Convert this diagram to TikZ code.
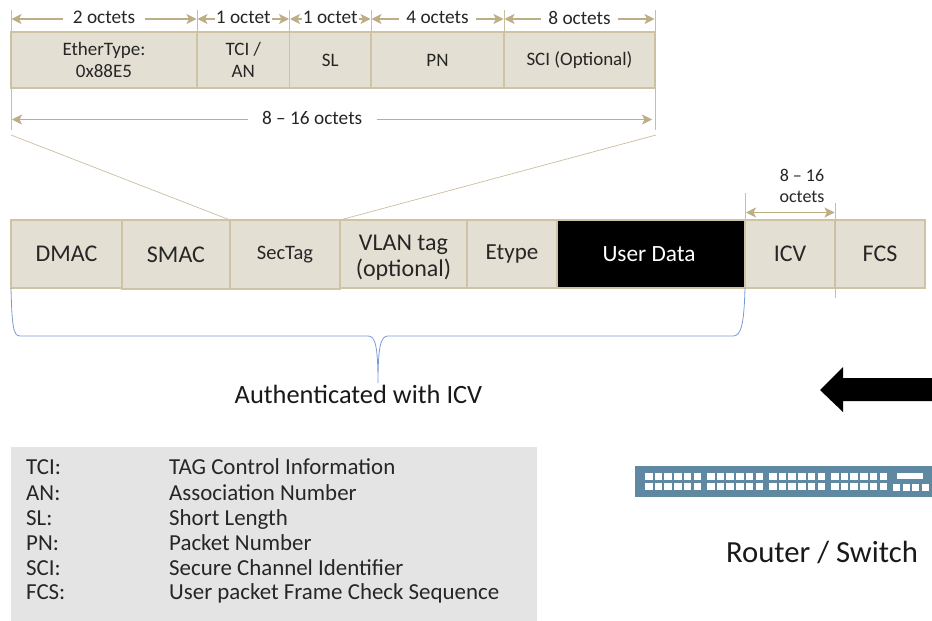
\documentclass[tikz,border=0pt]{standalone}
\usepackage{fontspec}
\setmainfont{Carlito}
\usetikzlibrary{arrows.meta,positioning}
\definecolor{mysand}{RGB}{228,223,211}
\definecolor{myborder}{RGB}{207,195,166}
\definecolor{mytan}{RGB}{190,174,134}
\definecolor{mybrace}{RGB}{120,155,215}
\definecolor{mygrey}{RGB}{228,228,228}
\definecolor{myswitch}{RGB}{95,136,163}

\begin{document}
\begin{tikzpicture}[
  x=1pt,y=-1pt,
  >={Stealth[inset=2.5pt,length=10pt,width=10pt]},
  myfield/.style={
    draw=myborder,
    line width=1.5pt,
    fill=mysand,
    inner sep=0pt,
    outer sep=0pt,
    align=center,
    text=black!85
    },
  mytop/.style={myfield, minimum height=56pt, font=\fontsize{19}{22}\selectfont},
  mylow/.style={myfield, minimum height=68pt, font=\fontsize{24}{26}\selectfont},
  myext/.style={draw=mytan!80, line width=0.9pt},
  mydim/.style={draw=mytan, line width=1.1pt, <->},
  mydimtext/.style={fill=white, inner ysep=0pt, yshift=1.5pt, text=black!85, font=\fontsize{19.3}{20}\selectfont},
  mylegend/.style={anchor=base west, inner sep=0pt, text=black!85, font=\fontsize{22.9}{24}\selectfont},
  myport/.style={fill=white}
]
\useasboundingbox (0,0) rectangle (932,621);

% expanded tag
\node [mytop, minimum width=186pt, anchor=north west] (ether) at (11,32) {EtherType:\\0x88E5};
\node [mytop, minimum width=92.5pt, right=0pt of ether] (tci) {TCI /\\AN};
\node [mytop, minimum width=81.5pt, right=0pt of tci] (sl) {SL};
\node [mytop, minimum width=133pt, right=0pt of sl] (pn) {PN};
\node [mytop, minimum width=151pt, right=0pt of pn] (sci) {SCI (Optional)};

% frame
\node [mylow, minimum width=111pt, anchor=north west] (dmac) at (11,220) {DMAC};
\node [mylow, minimum width=108pt, minimum height=69pt, anchor=north west] (smac) at (dmac.north east) {SMAC};
\node [mylow, minimum width=110pt, minimum height=69pt, anchor=north west, font=\fontsize{20.5}{22}\selectfont] (sectag) at (smac.north east) {SecTag};
\node [mylow, minimum width=127pt, anchor=north west] (vlan) at (sectag.north east) {\rule{0pt}{23pt}VLAN tag\\(optional)};
\node [mylow, minimum width=90pt, right=0pt of vlan, font=\fontsize{23}{26}\selectfont] (etype) {Etype};
\node [mylow, minimum width=188pt, right=0pt of etype, fill=black, text=white, font=\fontsize{23.3}{26}\selectfont] (data) {User Data\hspace{4pt}};
\node [mylow, minimum width=90pt, right=0pt of data] (icv) {ICV};
\node [mylow, minimum width=90pt, right=0pt of icv] (fcs) {FCS};

% extension lines
\coordinate (t0) at (11,10);
\coordinate (t1) at (197,10);
\coordinate (t2) at (289.5,10);
\coordinate (t3) at (371,10);
\coordinate (t4) at (504,10);
\coordinate (t5) at (655,10);
\coordinate (b0) at (11,130);
\coordinate (b5) at (655,130);
\draw [myext] (t0) -- (b0);
\draw [myext] (t1) -- (ether.north east);
\draw [myext] (t2) -- (tci.north east);
\draw [myext] (t3) -- (sl.north east);
\draw [myext] (t4) -- (pn.north east);
\draw [myext] (t5) -- (b5);

% octet sizes
\draw [mydim] (11.5,19) -- node [mydimtext, inner xsep=10pt] {2 octets} (196.5,19);
\draw [mydim] (197.5,19) -- node [mydimtext, inner xsep=1pt] {1 octet} (289,19);
\draw [mydim] (290,19) -- node [mydimtext, inner xsep=1pt] {1 octet} (370.5,19);
\draw [mydim] (371.5,19) -- node [mydimtext, inner xsep=7pt] {4 octets} (503.5,19);
\draw [mydim] (504.5,19) -- node [mydimtext, inner xsep=7pt] {8 octets} (654.5,19);
\draw [mydim, line width=0.8pt] (12,119.5) -- node [mydimtext, inner xsep=14.5pt, pos=0.469] {8 – 16 octets} (652,119.5);

% zoom lines
\coordinate (z0) at (11,135);
\coordinate (z5) at (656,135);
\draw [myext, line width=0.7pt] (z0) -- (sectag.north west);
\draw [myext, line width=0.7pt] (z5) -- (sectag.north east);

% icv size
\coordinate (i0) at (745,193);
\coordinate (i1) at (835,203);
\coordinate (i2) at (835,298);
\draw [myext] (i0) -- (data.north east);
\draw [myext] (i1) -- (i2);
\draw [mydim] (746,212.5) -- (834.5,212.5);
\node [text=black!85, align=center, inner sep=0pt, font=\fontsize{18}{21}\selectfont] (icvsize) at (802,186) {8 – 16\\octets};

% authenticated brace
\node [inner sep=0pt, text=black!90, font=\fontsize{26.4}{28}\selectfont] (auth) at (358.5,394) {Authenticated with ICV};
\coordinate (tip) at (378,383);
\draw [mybrace, line width=0.8pt] (dmac.south west)
  .. controls (12,325) and (13,336) .. (20,336) -- (368,336)
  .. controls (375,336) and (378,345) .. (tip)
  .. controls (378,345) and (381,336) .. (388,336) -- (733,336)
  .. controls (741,336) and (744,325) .. (data.south east);

% direction arrow
\fill [black] (820,390) -- (843,367) -- (843,378) -- (932,378) -- (932,401) -- (843,401) -- (843,412) -- cycle;

% legend
\node [fill=mygrey, outer sep=0pt, minimum width=526pt, minimum height=174pt, anchor=north west] (legendbox) at (11,447) {};
\node [mylegend] (k1) at (26,474.5) {TCI:};
\node [mylegend] (k2) at (26,500) {AN:};
\node [mylegend] (k3) at (26,525) {SL:};
\node [mylegend] (k4) at (26,550.5) {PN:};
\node [mylegend] (k5) at (26,575.5) {SCI:};
\node [mylegend] (k6) at (26,599.5) {FCS:};
\node [mylegend] (v1) at (169,474.5) {TAG Control Information};
\node [mylegend] (v2) at (169,500) {Association Number};
\node [mylegend] (v3) at (169,525) {Short Length};
\node [mylegend] (v4) at (169,550.5) {Packet Number};
\node [mylegend] (v5) at (169,575.5) {Secure Channel Identifier};
\node [mylegend] (v6) at (169,599.5) {User packet Frame Check Sequence};

% router
\fill [myswitch] (635,466) rectangle (932,497);
\foreach \g in {645,707,769,831}
  \foreach \i in {0,...,5}
    \foreach \r in {473,483}
      \fill [myport] (\g+\i*9.7,\r) rectangle +(7.6,7);
\fill [myport] (897,473) rectangle (923,479);
\foreach \i in {0,...,3}
  \fill [myport] (893+\i*9.7,484) rectangle +(7,7);
\node [inner sep=0pt, text=black!90, font=\fontsize{30.7}{32}\selectfont] (router) at (822,552) {Router / Switch};

\end{tikzpicture}
\end{document}
